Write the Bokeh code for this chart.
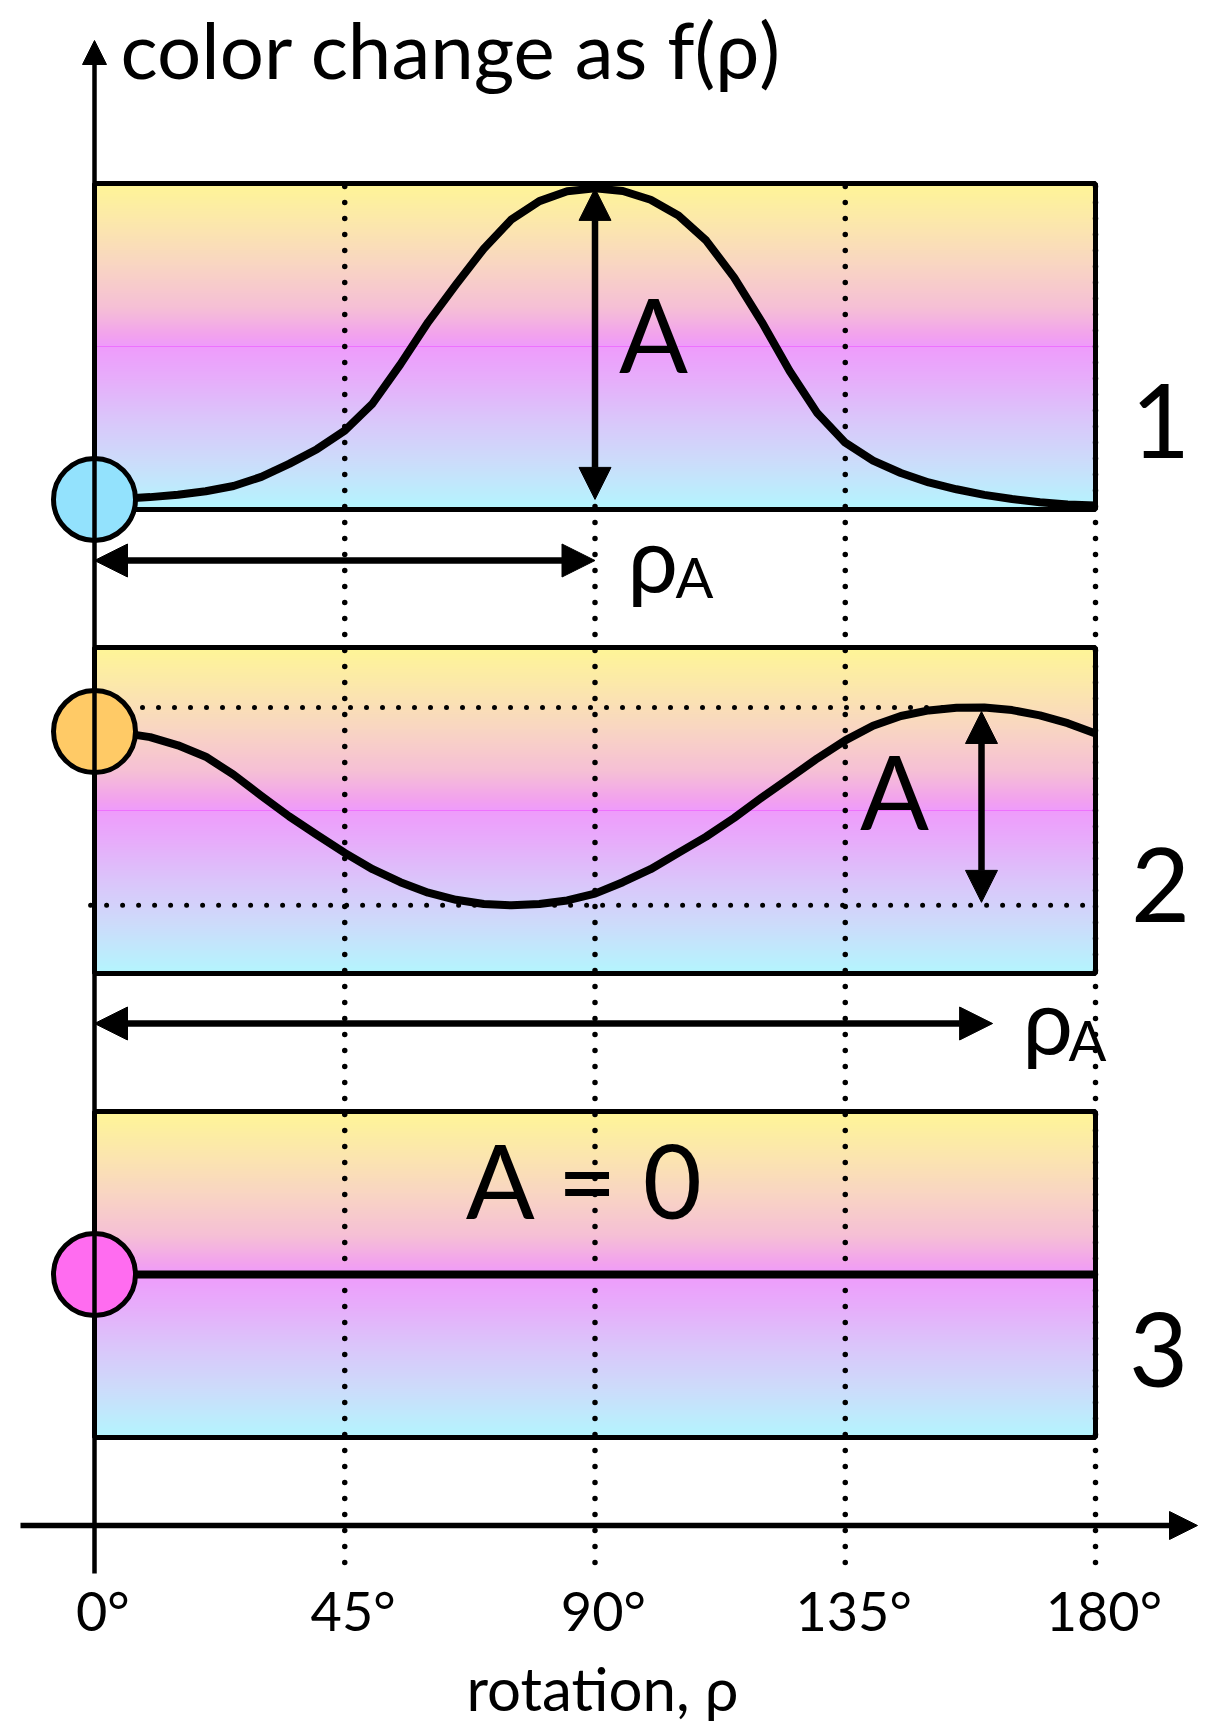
import numpy as np
from bokeh.plotting import figure
from bokeh.models import Range1d, Arrow, NormalHead
from bokeh.core.properties import value
from bokeh.embed import file_html
from bokeh.resources import INLINE

# ---------------- data ----------------
# panel 1: rotation (deg) and colour change (0 = panel bottom, 1 = panel top)
rho_1 = [0, 5, 10, 15, 20, 25, 30, 35, 40, 45, 50, 55, 60, 65, 70, 75, 80, 85,
         90, 95, 100, 105, 110, 115, 120, 125, 130, 135, 140, 145, 150, 155,
         160, 165, 170, 175, 180]
f_1 = [0.031, 0.033, 0.038, 0.045, 0.056, 0.072, 0.100, 0.140, 0.185, 0.242,
       0.325, 0.445, 0.575, 0.690, 0.800, 0.890, 0.946, 0.976, 0.985, 0.977,
       0.950, 0.902, 0.825, 0.712, 0.575, 0.425, 0.295, 0.205, 0.150, 0.112,
       0.083, 0.062, 0.045, 0.032, 0.022, 0.015, 0.012]
# panel 2
rho_2 = [0, 5, 10, 15, 20, 25, 30, 35, 40, 45, 50, 55, 60, 65, 70, 75, 80, 85,
         90, 95, 100, 105, 110, 115, 120, 125, 130, 135, 140, 145, 150, 155,
         160, 165, 170, 175, 180]
f_2 = [0.742, 0.738, 0.725, 0.700, 0.665, 0.610, 0.545, 0.482, 0.425, 0.370,
       0.320, 0.280, 0.248, 0.226, 0.213, 0.209, 0.213, 0.224, 0.245, 0.280,
       0.320, 0.370, 0.420, 0.477, 0.540, 0.600, 0.660, 0.715, 0.760, 0.790,
       0.807, 0.815, 0.816, 0.808, 0.792, 0.768, 0.736]
# panel 3 (no change)
rho_3 = [0, 180]
f_3 = [0.5, 0.5]
rho_A = [90, 160]
tick_values = [0, 45, 90, 135, 180]
tick_labels = ["0°", "45°", "90°", "135°", "180°"]
panel_labels = ["1", "2", "3"]
dot_colors = ["#93E2FD", "#FFCA66", "#FF6CF0"]
title_text = "color change as f(ρ)"
x_title_text = "rotation, ρ"

# ---------------- layout ----------------
W, H = 1200, 1726
PX_PER_DEG = 1001 / 180.0
X0 = 94  # figure px of 0 deg


def X(full_x):
    return (full_x - X0) / PX_PER_DEG


def Y(full_y):
    return H - full_y


PANEL_BOTTOM = [Y(509), Y(973), Y(1437)]
PH = 326


def py(i, v):
    return PANEL_BOTTOM[i] + v * PH


p = figure(width=W, height=H,
           x_range=Range1d(-X0 / PX_PER_DEG, (W - X0) / PX_PER_DEG),
           y_range=Range1d(0, H),
           x_axis_type=None, y_axis_type=None,
           toolbar_location=None, output_backend="svg", min_border=0)
p.outline_line_color = None
p.background_fill_color = "white"
p.border_fill_color = "white"

FONT = value("Lato")

# ---------------- gradient backgrounds ----------------
stops_t = [0.00, 0.12, 0.25, 0.38, 0.47, 0.50, 0.60, 0.72, 0.85, 1.00]
stops_c = ["#FFF697", "#FCE8AC", "#F9D6C3", "#F6C0D6", "#F2A2F0", "#EF9CFC",
           "#E7AEFB", "#DBC6FA", "#CDDCFB", "#B4F6FE"]
rgb = np.array([[int(c[k:k + 2], 16) for k in (1, 3, 5)] for c in stops_c], float)
rows = PH
t = 1 - (np.arange(rows) + 0.5) / rows
img = np.empty((rows, 2), dtype=np.uint32)
view = img.view(dtype=np.uint8).reshape((rows, 2, 4))
for k in range(3):
    ch = np.interp(t, stops_t, rgb[:, k]).astype(np.uint8)
    view[:, :, k] = ch[:, None]
view[:, :, 3] = 255
for i in range(3):
    p.image_rgba(image=[img], x=0, y=PANEL_BOTTOM[i], dw=180, dh=PH)
    p.segment(x0=0, x1=180, y0=py(i, 0.5), y1=py(i, 0.5),
              line_color="#EE66FF", line_width=1.2, line_alpha=0.8)

# vertical dotted guide lines
p.segment(x0=tick_values[1:], x1=tick_values[1:],
          y0=[Y(186)] * 4, y1=[Y(1566)] * 4,
          line_color="black", line_width=5.5, line_dash="0 16", line_cap="round")

# panel borders
p.quad(left=0, right=180, bottom=PANEL_BOTTOM, top=[b + PH for b in PANEL_BOTTOM],
       fill_color=None, line_color="black", line_width=5)

# horizontal dotted lines of panel 2
p.segment(x0=[0, -0.7], x1=[rho_A[1], 178.6],
          y0=[py(1, max(f_2)), py(1, min(f_2))], y1=[py(1, max(f_2)), py(1, min(f_2))],
          line_color="black", line_width=5, line_dash="0 16", line_cap="round")

# curves
for i, (rx, fy) in enumerate([(rho_1, f_1), (rho_2, f_2), (rho_3, f_3)]):
    p.line(rx, [py(i, v) for v in fy], line_color="black", line_width=8,
           line_join="round", line_cap="butt")


def head(size):
    return NormalHead(size=size, fill_color="black", line_color="black", line_width=1)


# amplitude / rho_A arrows
p.add_layout(Arrow(start=head(32), end=head(32), x_start=rho_A[0], x_end=rho_A[0],
                   y_start=py(0, f_1[0]), y_end=py(0, max(f_1)),
                   line_width=6.5, line_color="black"))
p.add_layout(Arrow(start=head(33), end=head(33), x_start=0, x_end=rho_A[0],
                   y_start=Y(560), y_end=Y(560), line_width=6.5, line_color="black"))
p.add_layout(Arrow(start=head(32), end=head(32), x_start=rho_A[1] - 0.5, x_end=rho_A[1] - 0.5,
                   y_start=py(1, min(f_2)) + 3, y_end=py(1, max(f_2)) - 4,
                   line_width=6.5, line_color="black"))
p.add_layout(Arrow(start=head(33), end=head(33), x_start=0, x_end=rho_A[1] + 1.5,
                   y_start=Y(1023), y_end=Y(1023), line_width=6.5, line_color="black"))

# axes
p.add_layout(Arrow(start=None, end=head(24), x_start=0, x_end=0,
                   y_start=Y(1573), y_end=Y(40), line_width=4.5, line_color="black"))
p.add_layout(Arrow(start=None, end=head(28), x_start=X(20), x_end=X(1197),
                   y_start=Y(1525), y_end=Y(1525), line_width=5.5, line_color="black"))

# start markers
p.scatter(x=[0, 0, 0], y=[py(0, f_1[0]), py(1, f_2[0]), py(2, f_3[0])],
          size=82, marker="circle", fill_color=dot_colors,
          line_color="black", line_width=5)


# ---------------- texts ----------------
BASE_FIX = 0.37  # raise text so that its baseline lands on the wanted line


def txt(x, baseline_full_y, s, size, align="center"):
    ys = [Y(b) + BASE_FIX * size for b in baseline_full_y]
    p.text(x=x, y=ys, text=s, text_font=FONT, text_font_size=f"{size}px",
           text_align=align, text_baseline="alphabetic", text_color="black")


txt([X(120)], [77], [title_text], 78, "left")
txt([X(653)], [371], ["A"], 102)
txt([X(894)], [828], ["A"], 102)
txt([X(585)], [1217], ["A = 0"], 102)
txt([X(1160), X(1160), X(1158)], [458, 922, 1387], panel_labels, 102)
txt([X(627), X(1022)], [590, 1052], ["ρ", "ρ"], 90, "left")
txt([X(675), X(1068)], [597, 1060], ["A", "A"], 56, "left")
txt([v + 1.5 for v in tick_values], [1630] * 5, tick_labels, 54)
txt([X(602)], [1710], [x_title_text], 60)

open("out.html", "w").write(file_html(p, INLINE))
